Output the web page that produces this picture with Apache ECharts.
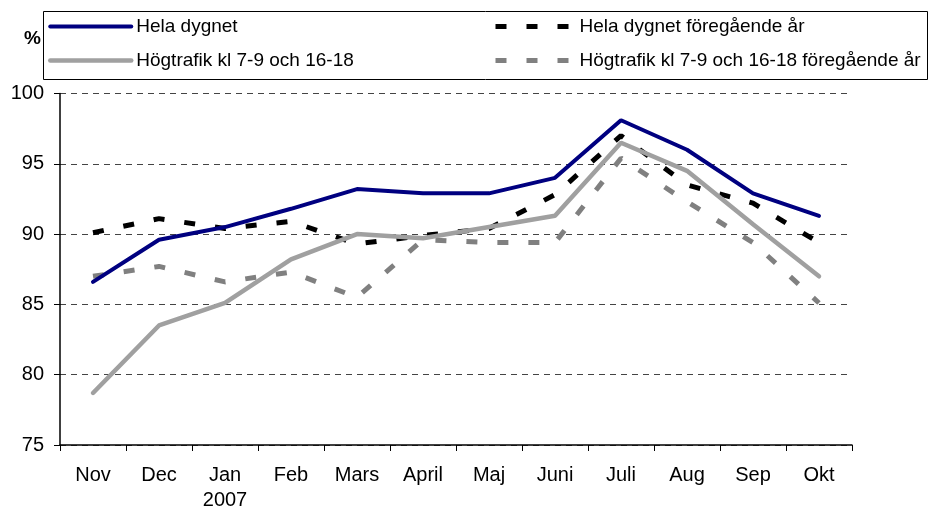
<!DOCTYPE html>
<html>
<head>
<meta charset="utf-8">
<script src="https://cdn.jsdelivr.net/npm/echarts@6/dist/echarts.min.js"></script>
<style>
  html, body { margin: 0; padding: 0; background: #fff; }
  #chart { width: 934px; height: 513px; }
</style>
</head>
<body>
<div id="chart"></div>
<script>
// månader, nov 2006 - okt 2007
const months = ['Nov', 'Dec', 'Jan\n2007', 'Feb', 'Mars', 'April', 'Maj', 'Juni', 'Juli', 'Aug', 'Sep', 'Okt'];
const helaDygnet = [86.6, 89.6, 90.5, 91.8, 93.2, 92.9, 92.9, 94.0, 98.1, 96.0, 92.9, 91.3];
const hogtrafik = [78.7, 83.5, 85.1, 88.2, 90.0, 89.7, 90.5, 91.3, 96.5, 94.5, 90.7, 87.0];
const helaDygnetFg = [90.1, 91.1, 90.4, 90.9, 89.3, 89.9, 90.4, 92.8, 97.0, 93.5, 92.2, 89.4];
const hogtrafikFg = [87.0, 87.7, 86.6, 87.3, 85.5, 89.6, 89.4, 89.4, 95.4, 92.3, 89.4, 85.1];
const yTicks = [75, 80, 85, 90, 95, 100];

const font = 'Liberation Sans, Arial, sans-serif';

// label only on the last point
function withEndLabel(values, offset) {
    return values.map((v, i) => {
        if (i !== values.length - 1) return v;
        return {
            value: v,
            label: {
                show: true,
                position: 'right',
                distance: 29,
                offset: offset,
                fontFamily: font,
                fontSize: 19,
                fontWeight: 'bold',
                color: '#000',
                formatter: p => p.value.toFixed(1).replace('.', ',')
            }
        };
    });
}

var legendBase = {
    orient: 'vertical',
    top: 17,
    padding: 0,
    itemHeight: 20, itemGap: 15,
    itemStyle: { opacity: 0 },
    lineStyle: { width: 'inherit', type: 'inherit', cap: 'inherit' },
    textStyle: { fontFamily: font, fontSize: 19, color: '#000' }
};

var chart = echarts.init(document.getElementById('chart'));
var option = {
    animation: false,
    backgroundColor: '#fff',
    textStyle: { fontFamily: font },
    grid: { left: 60, right: 82, top: 93.5, bottom: 68 },
    graphic: [
        {
            type: 'rect',
            shape: { x: 43.5, y: 11.5, width: 884, height: 68 },
            style: { fill: 'none', stroke: '#000', lineWidth: 1 },
            z: 0
        }
    ],
    legend: [
        Object.assign({}, legendBase, {
            left: 48,
            itemWidth: 81,
            data: ['Hela dygnet', 'Högtrafik kl 7-9 och 16-18']
        }),
        Object.assign({}, legendBase, {
            left: 493,
            itemWidth: 79,
            data: ['Hela dygnet föregående år', 'Högtrafik kl 7-9 och 16-18 föregående år']
        })
    ],
    xAxis: {
        type: 'category',
        data: months,
        boundaryGap: true,
        axisLine: { lineStyle: { color: '#000', width: 1.5 } },
        axisTick: { show: true, length: 6, lineStyle: { color: '#000' } },
        axisLabel: {
            interval: 0,
            margin: 18,
            fontFamily: font,
            fontSize: 20,
            lineHeight: 25,
            color: '#000'
        }
    },
    yAxis: {
        type: 'value',
        min: yTicks[0],
        max: yTicks[yTicks.length - 1],
        interval: 5,
        name: '%',
        nameLocation: 'end',
        nameGap: 45,
        nameTextStyle: {
            fontFamily: font, fontSize: 19, fontWeight: 'bold', color: '#000',
            align: 'right', padding: [0, 19, 0, 0]
        },
        axisLine: { show: true, lineStyle: { color: '#000', width: 1.5 } },
        axisTick: { show: true, length: 6, lineStyle: { color: '#000' } },
        axisLabel: { margin: 16, fontFamily: font, fontSize: 20, color: '#000' },
        splitLine: { lineStyle: { color: '#444', width: 1, type: [6, 5] } }
    },
    series: [
        {
            name: 'Hela dygnet föregående år',
            type: 'line',
            data: helaDygnetFg,
            symbol: 'none',
            lineStyle: { color: '#000', width: 5, type: [11, 20] },
            itemStyle: { color: '#000' }
        },
        {
            name: 'Högtrafik kl 7-9 och 16-18 föregående år',
            type: 'line',
            data: hogtrafikFg,
            symbol: 'none',
            lineStyle: { color: '#808080', width: 5, type: [11, 20] },
            itemStyle: { color: '#808080' }
        },
        {
            name: 'Högtrafik kl 7-9 och 16-18',
            type: 'line',
            data: withEndLabel(hogtrafik, [0, -1]),
            symbol: 'none',
            lineStyle: { color: '#a0a0a0', width: 4.5, cap: 'round' },
            itemStyle: { color: '#a0a0a0' }
        },
        {
            name: 'Hela dygnet',
            type: 'line',
            data: withEndLabel(helaDygnet, [0, -7]),
            symbol: 'none',
            lineStyle: { color: '#000080', width: 4, cap: 'round' },
            itemStyle: { color: '#000080' }
        }
    ]
};
chart.setOption(option);
</script>
</body>
</html>
